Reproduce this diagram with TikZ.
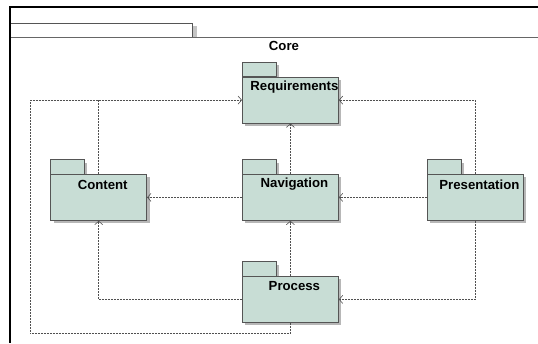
\documentclass[tikz,border=0pt]{standalone}
\usepackage{fontspec}
\setmainfont{Liberation Sans}
\usetikzlibrary{arrows.meta,shadows}
\definecolor{pkgfill}{RGB}{200,221,213}
\definecolor{pkgline}{RGB}{85,85,85}
\definecolor{shadowc}{RGB}{170,170,170}
\definecolor{depcol}{RGB}{80,80,80}
\tikzset{
  pkgshadow/.style={drop shadow={shadow xshift=3pt, shadow yshift=-3pt, fill=shadowc, opacity=0.85}},
  pkg/.style={draw=pkgline, fill=pkgfill, line width=0.8pt, minimum width=96pt, minimum height=46pt, inner sep=0pt, pkgshadow},
  pkgtab/.style={draw=pkgline, fill=pkgfill, line width=0.8pt, pkgshadow},
  pkglabel/.style={font=\fontsize{13.2}{15}\selectfont\bfseries, inner sep=0pt},
  depdash/.style={draw=depcol, line width=0.6pt, dash pattern=on 2pt off 1pt},
  dep/.style={depdash, -{Straight Barb[length=3.5pt,width=8pt]}},
}
\newcommand\umlpkg[4]{% name, left x, top y, label
  \path[pkgtab] (#2,#3) rectangle ++(34,-14.5);
  \node[pkg, anchor=north west, label={[pkglabel, anchor=center, xshift=4pt, yshift=-10.5pt]north:#4}] (#1) at (#2,#3) {};
}
\begin{document}
\begin{tikzpicture}[x=1pt,y=-1pt]
\useasboundingbox (0,0) rectangle (538,343);
% frame
\fill[shadowc!70] (192.7,25.5) rectangle (196.5,37.3);
\draw[fill=white, draw=pkgline, line width=0.8pt] (10,23.3) rectangle (192.7,37.3);
\draw[gray!80!black, line width=0.8pt] (10,37.3) -- (538,37.3);
\draw[black, line width=2pt] (538,7) -- (9.5,7) -- (9.5,343);
\node[pkglabel] (core) at (284,46) {Core};
% packages
\umlpkg{req}{242}{76.7}{Requirements}
\umlpkg{con}{50.3}{174}{Content}
\umlpkg{nav}{242}{174}{Navigation}
\umlpkg{pre}{427}{174}{Presentation}
\umlpkg{pro}{242}{276}{Process}
% dependencies
\coordinate (bl) at (30,333.5);
\draw[depdash] (con.north) -- (con.north |- req.west);
\draw[dep] (pro.south) |- (bl) |- (req.west);
\draw[dep] (nav.north) -- (req.south);
\draw[dep] (pre.north) |- (req.east);
\draw[dep] (nav.west) -- (con.east);
\draw[dep] (pre.west) -- (nav.east);
\draw[dep] (pro.north) -- (nav.south);
\draw[dep] (pro.west) -| (con.south);
\draw[dep] (pre.south) |- (pro.east);
\end{tikzpicture}
\end{document}
